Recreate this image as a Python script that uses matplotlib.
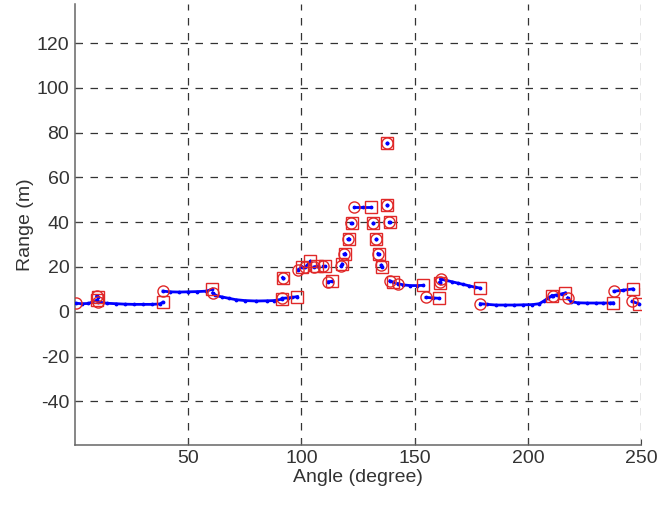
import matplotlib.pyplot as plt

# scan segments: angle (degree) and range (m) of the points in each segment
seg_angles = [
    [0.4, 3, 6, 9.8],
    [9.6, 10.0],
    [10.4, 14, 18, 22, 26, 30, 34, 37.5, 38.7],
    [38.9, 42, 46, 50, 54, 58, 60.4],
    [60.8, 62, 65, 68, 71, 75, 80, 85, 88, 91.3],
    [91.5, 94, 96, 98.2],
    [91.7, 92.0],
    [98.5, 100.3],
    [101.6, 104.0],
    [105.5, 107.0],
    [109.5, 110.2],
    [111.8, 113.5],
    [117.5, 118.0],
    [118.9, 119.3],
    [120.6, 120.9],
    [121.9, 122.2],
    [123.0, 127, 130.5],
    [131.4, 131.6],
    [132.8, 133.0],
    [133.8, 134.1],
    [135.2, 135.7],
    [137.6, 137.8],
    [137.8, 137.9],
    [138.8, 139.0],
    [139.0, 140.5],
    [142.5, 145, 148, 151, 153.8],
    [155.0, 158, 160.9],
    [161.0, 161.2],
    [161.4, 164, 166.5, 169, 171.5, 174, 176.5, 178.8],
    [179.0, 182, 186, 190, 194, 198, 202, 205, 207, 209, 210.5],
    [211.0, 213, 215, 216.5],
    [217.5, 219, 222, 226, 230, 233, 236, 237.6],
    [238.0, 242, 246.2],
    [246.0, 248.8],
]
seg_ranges = [
    [3.8, 3.6, 3.7, 5.2],
    [7.0, 6.6],
    [4.4, 3.8, 3.6, 3.4, 3.3, 3.3, 3.3, 3.5, 4.2],
    [9.2, 8.9, 8.8, 8.9, 9.0, 9.2, 10.0],
    [8.4, 7.3, 6.6, 6.0, 5.4, 5.0, 4.8, 4.9, 5.0, 5.6],
    [6.0, 6.2, 6.4, 6.8],
    [15.3, 15.0],
    [18.8, 20.0],
    [19.8, 22.5],
    [20.0, 20.3],
    [20.5, 20.5],
    [13.4, 13.6],
    [20.5, 21.3],
    [25.8, 26.0],
    [32.4, 32.6],
    [39.7, 39.7],
    [47.0, 47.0, 47.0],
    [39.7, 39.7],
    [32.4, 32.4],
    [26.0, 25.8],
    [20.8, 20.2],
    [47.8, 47.8],
    [75.5, 75.5],
    [40.2, 40.2],
    [13.8, 13.2],
    [12.6, 12.0, 11.7, 11.7, 11.8],
    [6.4, 6.2, 6.0],
    [13.2, 13.0],
    [14.6, 14.0, 13.4, 12.8, 12.2, 11.6, 11.0, 10.6],
    [3.6, 3.3, 3.0, 3.0, 3.0, 3.1, 3.2, 3.6, 4.8, 6.2, 7.2],
    [7.2, 7.6, 8.0, 8.4],
    [6.2, 4.5, 4.0, 3.9, 3.9, 3.9, 3.9, 4.0],
    [9.2, 9.6, 10.2],
    [4.6, 3.6],
]

x_ticks = [50, 100, 150, 200, 250]
y_ticks = [-40, -20, 0, 20, 40, 60, 80, 100, 120]

plt.rcParams["font.family"] = ["Liberation Sans", "DejaVu Sans"]
plt.rcParams["axes.unicode_minus"] = False

fig = plt.figure(figsize=(6.57, 5.05), dpi=100)
ax = fig.add_axes([0.114, 0.119, 0.862, 0.873])

for a, r in zip(seg_angles, seg_ranges):
    ax.plot(a, r, "-", color="#0000ff", lw=2.0, marker=".", ms=3.5, zorder=3)
    ax.plot(a[0], r[0], "o", mfc="none", mec="#e02828", ms=8, mew=1.0, zorder=4)
    ax.plot(a[-1], r[-1], "s", mfc="none", mec="#e02828", ms=8, mew=1.0, zorder=4)

ax.set_xlim(0, 250)
ax.set_ylim(-59.5, 137.5)
ax.set_xticks(x_ticks)
ax.set_yticks(y_ticks)
ax.grid(True, color="#333333", lw=0.9, linestyle=(0, (6, 6)))
ax.set_axisbelow(True)

for s in ["top", "right"]:
    ax.spines[s].set_visible(False)
for s in ["left", "bottom"]:
    ax.spines[s].set_color("#666666")
    ax.spines[s].set_linewidth(1.1)

ax.tick_params(direction="in", length=4, color="#444444", labelsize=14,
               labelcolor="#333333", pad=4)
ax.set_xlabel("Angle (degree)", fontsize=14, color="#333333", labelpad=1)
ax.set_ylabel("Range (m)", fontsize=14, color="#333333", labelpad=2)

fig.savefig("out.png", dpi=100)
